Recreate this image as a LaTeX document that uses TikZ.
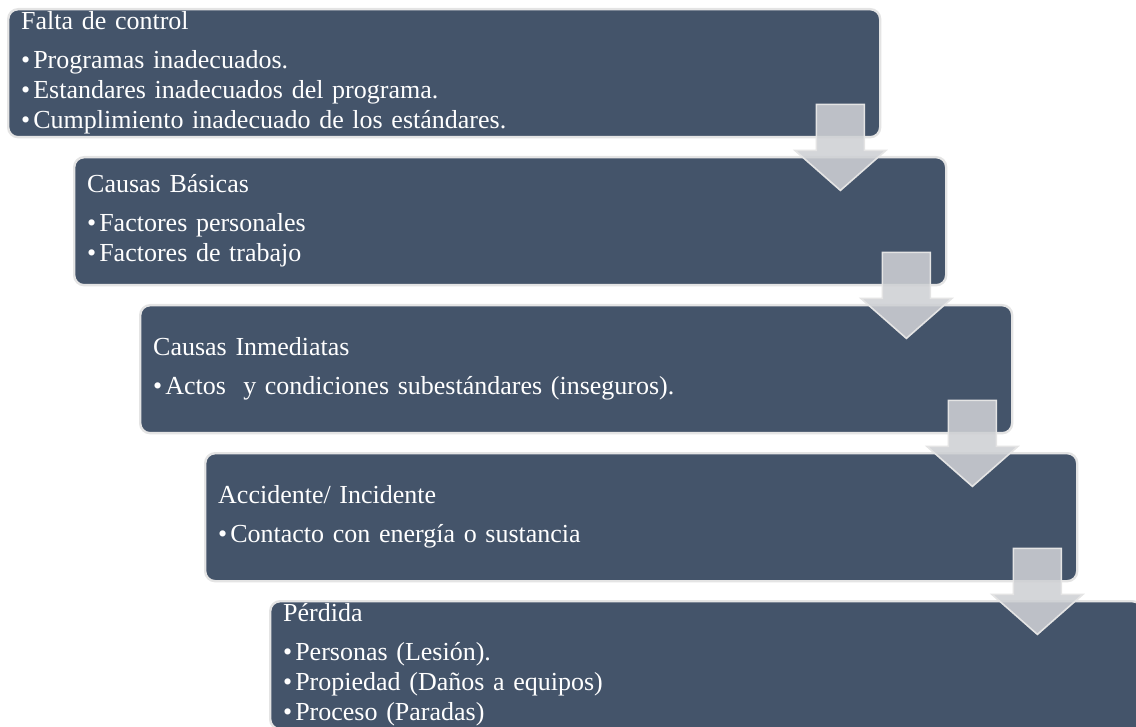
\documentclass[tikz,border=0pt]{standalone}
\usepackage{fontspec}
\setmainfont{Liberation Serif}
\usetikzlibrary{calc}
\definecolor{cajaazul}{RGB}{68,84,106}
\definecolor{bordegris}{RGB}{228,228,228}
\definecolor{flechagris}{RGB}{206,208,212}
\newcommand{\vineta}{\textbullet\hspace{1.5pt}}

\begin{document}
\begin{tikzpicture}[x=0.5pt, y=-0.5pt,
    caja/.style={draw=bordegris, line width=1.2pt, fill=cajaazul, rounded corners=5pt,
      anchor=north west, minimum width=436pt, minimum height=64pt, text width=423pt,
      inner xsep=6.5pt, inner ysep=0pt, align=left, text=white,
      font=\fontsize{13}{15}\selectfont},
    flecha/.style={fill=flechagris, fill opacity=0.88, draw=bordegris, line width=0.8pt}]
    \useasboundingbox (0,0) rectangle (1136,727);
    \node[caja] (b1) at (7,8) {Falta de control\\[4.5pt]
      \vineta Programas inadecuados.\\
      \vineta Estandares inadecuados del programa.\\
      \vineta Cumplimiento inadecuado de los estándares.};
    \node[caja] (b2) at (73,156) {Causas Básicas\\[4.5pt]
      \vineta Factores personales\\
      \vineta Factores de trabajo};
    \node[caja] (b3) at (139,304) {Causas Inmediatas\\[4.5pt]
      \vineta Actos~ y condiciones subestándares (inseguros).};
    \node[caja] (b4) at (204,452) {Accidente/ Incidente\\[4.5pt]
      \vineta Contacto con energía o sustancia};
    \node[caja] (b5) at (269,600) {Pérdida\\[4.5pt]
      \vineta Personas (Lesión).\\
      \vineta Propiedad (Daños a equipos)\\
      \vineta Proceso (Paradas)};
    % flechas entre cajas
    \foreach \b in {b1,b2,b3,b4}
      \draw[flecha] ($(\b.south east)+(-65,-34)$) -- ++(48,0) -- ++(0,46) -- ++(21.5,0)
        -- ++(-45.5,40) -- ++(-45.5,-40) -- ++(21.5,0) -- cycle;
\end{tikzpicture}
\end{document}
